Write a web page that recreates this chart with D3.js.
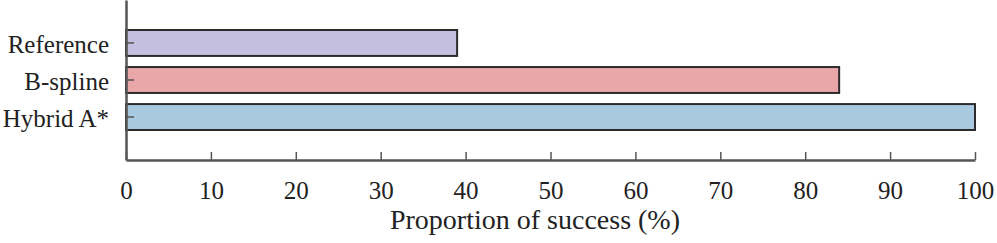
<!DOCTYPE html>
<html>
<head>
<meta charset="utf-8">
<script src="https://cdn.jsdelivr.net/npm/d3@7"></script>
<style>
  body { margin: 0; background: #fff; }
  svg text { font-family: "Liberation Serif", "DejaVu Serif", serif; fill: #222; }
</style>
</head>
<body>
<svg id="chart" width="997" height="243"></svg>
<script>
// data
var methods = ["Reference", "B-spline", "Hybrid A*"];
var success = [39, 84, 100];
var barColors = ["#c4bedf", "#e9a7a9", "#a9c9e0"];
var xTicks = [0, 10, 20, 30, 40, 50, 60, 70, 80, 90, 100];

var svg = d3.select("#chart");
var plotL = 126, plotR = 975, plotT = 0, plotB = 160;

var x = d3.scaleLinear().domain([0, 100]).range([plotL, plotR]);
var y = d3.scaleBand().domain(methods).range([plotT, plotB])
  .paddingInner(0.3).paddingOuter(0.81);

// bars
svg.selectAll("rect.bar")
  .data(methods)
  .enter()
  .append("rect")
  .attr("class", "bar")
  .attr("x", x(0))
  .attr("y", function(d){ return y(d); })
  .attr("width", function(d, i){ return x(success[i]) - x(0); })
  .attr("height", y.bandwidth())
  .attr("fill", function(d, i){ return barColors[i]; })
  .attr("stroke", "#2b2b2b")
  .attr("stroke-width", 2);

// bottom axis, ticks pointing inward
var xAxis = svg.append("g")
  .attr("transform", "translate(0," + plotB + ")")
  .call(d3.axisBottom(x).tickValues(xTicks).tickSizeInner(-8).tickSizeOuter(0).tickPadding(21));
xAxis.select(".domain").attr("stroke", "#555").attr("stroke-width", 2.5);
xAxis.selectAll(".tick line").attr("stroke", "#555").attr("stroke-width", 1.5);
xAxis.selectAll(".tick text").attr("font-size", 25).attr("fill", "#222");
xAxis.attr("font-family", null);

// left axis
var yAxis = svg.append("g")
  .attr("transform", "translate(" + plotL + ",0)")
  .call(d3.axisLeft(y).tickSizeInner(-8).tickSizeOuter(0).tickPadding(17));
yAxis.select(".domain").attr("stroke", "#555").attr("stroke-width", 2.5);
yAxis.selectAll(".tick line").attr("stroke", "#555").attr("stroke-width", 1.5);
yAxis.selectAll(".tick text").attr("font-size", 25).attr("fill", "#222").attr("dy", "0.4em");
yAxis.attr("font-family", null);

// axis title
svg.append("text")
  .attr("x", 535)
  .attr("y", 229)
  .attr("text-anchor", "middle")
  .attr("font-size", 28)
  .text("Proportion of success (%)");
</script>
</body>
</html>
